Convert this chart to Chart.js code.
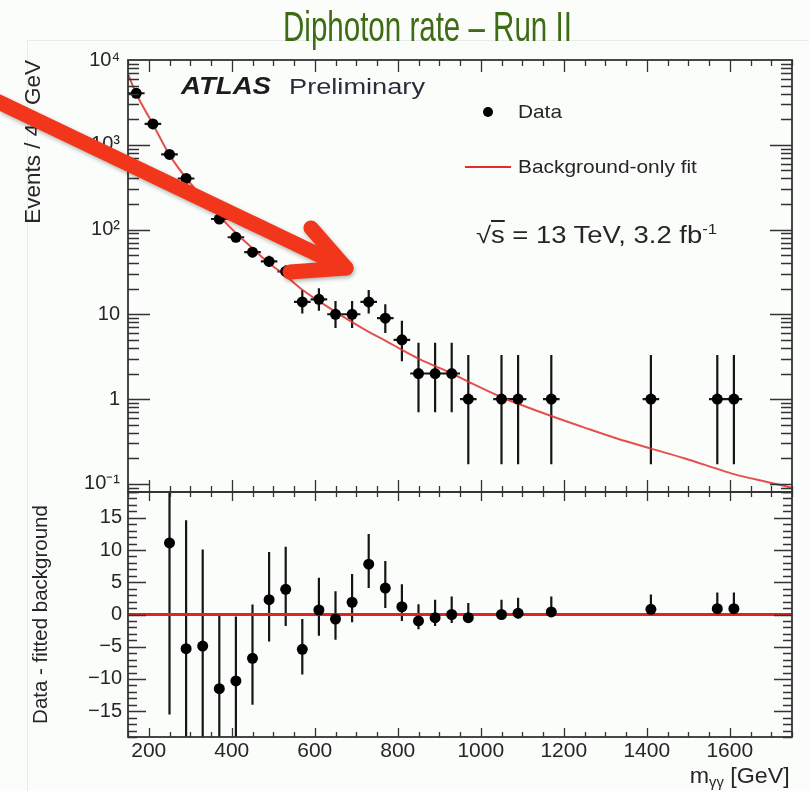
<!DOCTYPE html>
<html>
<head>
<meta charset="utf-8">
<script src="https://cdn.jsdelivr.net/npm/chart.js@4.4.1/dist/chart.umd.min.js"></script>
<style>
  body { margin: 0; background: #fbfdfb; font-family: 'Liberation Sans', Arial, sans-serif; }
  #wrap { position: relative; width: 809px; height: 791px; overflow: hidden; }
  #frameBox { position: absolute; left: 27px; top: 40px; width: 800px; height: 800px; border: 1px solid #e8ece8; }
  canvas { position: absolute; left: 0; }
  #upperChart { top: 0; }
  #lowerChart { top: 462px; }
  .txt { position: absolute; white-space: nowrap; line-height: 1; color: #262626; transform-origin: left center; }
  #title { left: 283px; top: 6px; font-size: 42px; color: #3f6b14; }
  #atlas { left: 181px; top: 75px; font-size: 23px; font-weight: bold; font-style: italic; color: #1c1c1c; }
  #prelim { left: 289px; top: 76px; font-size: 22px; color: #2c2c3c; }
  #legData { left: 518px; top: 102px; font-size: 19px; }
  #legFit { left: 518px; top: 157px; font-size: 19px; }
  #sqrts { left: 476px; top: 222px; font-size: 23px; }
  #sqrts sup { font-size: 14px; vertical-align: 9px; }
  #xTitle { right: 19px; top: 765px; font-size: 22px; transform-origin: right center; }
  #xTitle sub { font-size: 14px; vertical-align: -4px; }
  #legDot { position: absolute; left: 483px; top: 107px; width: 10px; height: 10px; border-radius: 50%; background: #000; }
  #legLine { position: absolute; left: 465px; top: 166px; width: 46px; height: 2px; background: #e52b2b; }
  #arrow { position: absolute; left: 0; top: 0; pointer-events: none; filter: drop-shadow(1px 2px 2px rgba(0,0,0,0.3)); }
</style>
</head>
<body>
<div id="wrap">
  <div id="frameBox"></div>
  <canvas id="upperChart" width="809" height="520"></canvas>
  <canvas id="lowerChart" width="809" height="329"></canvas>
  <div class="txt" id="title">Diphoton rate – Run II</div>
  <div class="txt" id="atlas">ATLAS</div>
  <div class="txt" id="prelim">Preliminary</div>
  <div id="legDot"></div>
  <div class="txt" id="legData">Data</div>
  <div id="legLine"></div>
  <div class="txt" id="legFit">Background-only fit</div>
  <div class="txt" id="sqrts">√<span style="text-decoration: overline">s</span> = 13 TeV, 3.2 fb<sup>-1</sup></div>
  <div class="txt" id="xTitle">m<sub>γγ</sub> [GeV]</div>
  <svg id="arrow" width="809" height="791">
    <g stroke="#f2361b" stroke-width="15" stroke-linecap="round" stroke-linejoin="round" fill="none">
      <line x1="-20" y1="93" x2="346" y2="268"/>
      <polyline points="311,228 346,268 290,272"/>
    </g>
  </svg>
</div>
<script>
// Upper panel: events per 40 GeV bin
const massBins = [170, 210, 250, 290, 330, 370, 410, 450, 490, 530, 570, 610, 650, 690, 730, 770, 810, 850, 890, 930, 970, 1050, 1090, 1170, 1410, 1570, 1610];
const eventCounts = [4050, 1760, 770, 400, 235, 133, 81, 54, 42, 32, 14, 15, 10, 10, 14, 9, 5, 2, 2, 2, 1, 1, 1, 1, 1, 1, 1];
const eventErrLow = [3985, 1718, 742, 380, 220, 122, 72, 47, 36, 27, 10.2, 11, 6.9, 6.9, 10.2, 6, 2.8, 0.7, 0.7, 0.7, 0.17, 0.17, 0.17, 0.17, 0.17, 0.17, 0.17];
const eventErrHigh = [4115, 1802, 798, 421, 251, 145, 91, 62, 49, 38, 19.4, 20.3, 14.3, 14.3, 19.4, 13.1, 8.4, 4.6, 4.6, 4.6, 3.3, 3.3, 3.3, 3.3, 3.3, 3.3, 3.3];

// Background-only fit curve
const fitMass = [150, 170, 210, 250, 290, 330, 370, 410, 450, 490, 530, 570, 610, 650, 690, 730, 770, 810, 850, 890, 930, 970, 1050, 1090, 1170, 1250, 1330, 1410, 1490, 1570, 1610, 1690, 1750];
const fitEvents = [6800, 4000, 1750, 760, 405, 240, 144, 91, 60, 40, 28.5, 19.5, 14.3, 10.7, 8.1, 6.2, 4.9, 3.8, 3.0, 2.45, 2.0, 1.6, 1.05, 0.88, 0.63, 0.46, 0.34, 0.26, 0.2, 0.15, 0.13, 0.105, 0.09];

// Lower panel: data - fitted background
const residMass = [250, 290, 330, 370, 410, 450, 490, 530, 570, 610, 650, 690, 730, 770, 810, 850, 890, 930, 970, 1050, 1090, 1170, 1410, 1570, 1610];
const residuals = [11.1, -5.3, -4.9, -11.5, -10.3, -6.8, 2.3, 3.9, -5.4, 0.7, -0.7, 1.9, 7.8, 4.1, 1.2, -1.0, -0.5, 0.0, -0.5, 0.0, 0.2, 0.4, 0.8, 0.9, 0.9];
const residLow = [-15.5, -25, -20, -23, -19.8, -14, -4.2, -1.8, -9.3, -3.3, -3.9, -1.2, 4.1, 1.0, -1.0, -2.3, -1.8, -1.3, -1.3, -0.8, -0.6, -0.4, 0, 0.1, 0.1];
const residHigh = [38, 14.6, 10.1, 0, -0.3, 1.55, 9.7, 10.5, -0.7, 5.7, 3.6, 6.3, 12.5, 8.3, 4.7, 1.6, 2.3, 2.8, 1.8, 2.3, 2.6, 2.8, 3.1, 3.4, 3.4];
const zeroLineMass = [150, 1750];
const zeroLineValue = [0, 0];

// Axes
const xTickValues = [200, 400, 600, 800, 1000, 1200, 1400, 1600];
const xTickLabels = ['200', '400', '600', '800', '1000', '1200', '1400', '1600'];
const upperYTicks = [0.1, 1, 10, 100, 1000, 10000];
const upperYTickLabels = ['10⁻¹', '1', '10', '10²', '10³', '10⁴'];
const lowerYTicks = [-15, -10, -5, 0, 5, 10, 15];
const lowerYTickLabels = ['−15', '−10', '−5', '0', '5', '10', '15'];

Chart.defaults.font.family = "'Liberation Sans', Arial, sans-serif";
Chart.defaults.color = '#262626';
const axisColor = '#333';

const xMinorTicks = [];
for (let v = 150; v <= 1750; v += 50) xMinorTicks.push(v);
const upperYMinor = [];
for (let d = 0.01; d < 1e4; d *= 10) {
    for (let k = 1; k <= 9; k++) {
        const v = k * d;
        if (v >= 0.08 && v <= 10001) upperYMinor.push(v);
    }
}
const lowerYMinor = [];
for (let v = -19; v <= 19; v++) lowerYMinor.push(v);

// ROOT-style ticks drawn inside the frame
function insideTicks(opt) {
    return {
        id: 'insideTicks',
        afterDatasetsDraw(chart) {
            const { ctx, chartArea: a } = chart;
            const sx = chart.scales.x, sy = chart.scales.y;
            ctx.save();
            ctx.strokeStyle = axisColor;
            ctx.lineWidth = 1.3;
            ctx.beginPath();
            xMinorTicks.forEach(v => {
                const px = Math.round(sx.getPixelForValue(v)) + 0.5;
                const len = xTickValues.includes(v) ? opt.xMajor : opt.xMinor;
                ctx.moveTo(px, a.bottom); ctx.lineTo(px, a.bottom - len);
                ctx.moveTo(px, a.top); ctx.lineTo(px, a.top + len);
            });
            opt.yMinorList.forEach(v => {
                const py = Math.round(sy.getPixelForValue(v)) + 0.5;
                const len = opt.isMajor(v) ? opt.yMajor : opt.yMinor;
                ctx.moveTo(a.left, py); ctx.lineTo(a.left + len, py);
                ctx.moveTo(a.right, py); ctx.lineTo(a.right - len, py);
            });
            ctx.stroke();
            ctx.lineWidth = 1.8;
            ctx.strokeRect(a.left, a.top, a.right - a.left, a.bottom - a.top);
            ctx.restore();
        }
    };
}

function errorBars(xs, ys, lo, hi, halfWidth) {
    return {
        id: 'errorBars',
        beforeDatasetsDraw(chart) {
            const { ctx, chartArea: a } = chart;
            const sx = chart.scales.x, sy = chart.scales.y;
            ctx.save();
            ctx.beginPath();
            ctx.rect(a.left, a.top, a.right - a.left, a.bottom - a.top);
            ctx.clip();
            ctx.strokeStyle = '#151515';
            ctx.lineWidth = 2.2;
            ctx.beginPath();
            xs.forEach((x, i) => {
                const px = sx.getPixelForValue(x);
                ctx.moveTo(px, sy.getPixelForValue(lo[i]));
                ctx.lineTo(px, sy.getPixelForValue(hi[i]));
                if (halfWidth) {
                    const py = sy.getPixelForValue(ys[i]);
                    ctx.moveTo(sx.getPixelForValue(x - halfWidth), py);
                    ctx.lineTo(sx.getPixelForValue(x + halfWidth), py);
                }
            });
            ctx.stroke();
            ctx.restore();
        }
    };
}

const upperChart = new Chart(document.getElementById('upperChart'), {
    type: 'scatter',
    data: {
        datasets: [{
            label: 'Data',
            data: massBins.map((m, i) => ({ x: m, y: eventCounts[i] })),
            pointRadius: 5.5,
            pointBackgroundColor: '#000',
            pointBorderWidth: 0
        }, {
            label: 'Background-only fit',
            data: fitMass.map((m, i) => ({ x: m, y: fitEvents[i] })),
            showLine: true,
            borderColor: 'rgba(226, 48, 48, 0.85)',
            borderWidth: 2,
            pointRadius: 0,
            cubicInterpolationMode: 'monotone'
        }]
    },
    options: {
        responsive: false,
        animation: false,
        devicePixelRatio: 1,
        layout: { padding: { left: 0, right: 17, top: 60, bottom: 28 } },
        plugins: { legend: { display: false }, tooltip: { enabled: false } },
        scales: {
            x: { type: 'linear', min: 150, max: 1750, display: false },
            y: {
                type: 'logarithmic',
                min: 0.08,
                max: 10000,
                afterFit: scale => { scale.width = 128; },
                afterBuildTicks: scale => { scale.ticks = upperYTicks.map(v => ({ value: v })); },
                ticks: {
                    callback: v => upperYTickLabels[upperYTicks.indexOf(v)],
                    font: { size: 20 },
                    padding: 8
                },
                grid: { display: false, drawTicks: false },
                border: { display: false },
                title: {
                    display: true,
                    text: 'Events / 40 GeV',
                    align: 'end',
                    font: { size: 22.5 },
                    padding: { top: 20 }
                }
            }
        }
    },
    plugins: [
        errorBars(massBins, eventCounts, eventErrLow, eventErrHigh, 20),
        insideTicks({
            xMajor: 12, xMinor: 6, yMajor: 22, yMinor: 11,
            yMinorList: upperYMinor,
            isMajor: v => Math.abs(Math.log10(v) - Math.round(Math.log10(v))) < 1e-6
        })
    ]
});

const lowerChart = new Chart(document.getElementById('lowerChart'), {
    type: 'scatter',
    data: {
        datasets: [{
            label: 'Data - fitted background',
            data: residMass.map((m, i) => ({ x: m, y: residuals[i] })),
            pointRadius: 5.5,
            pointBackgroundColor: '#000',
            pointBorderWidth: 0
        }, {
            label: 'zero',
            data: zeroLineMass.map((m, i) => ({ x: m, y: zeroLineValue[i] })),
            showLine: true,
            borderColor: '#e02424',
            borderWidth: 3,
            pointRadius: 0
        }]
    },
    options: {
        responsive: false,
        animation: false,
        devicePixelRatio: 1,
        layout: { padding: { left: 0, right: 17, top: 30, bottom: 0 } },
        plugins: { legend: { display: false }, tooltip: { enabled: false } },
        scales: {
            x: {
                type: 'linear',
                min: 150,
                max: 1750,
                afterFit: scale => { scale.height = 54; },
                afterBuildTicks: scale => { scale.ticks = xTickValues.map(v => ({ value: v })); },
                ticks: {
                    callback: v => xTickLabels[xTickValues.indexOf(v)],
                    font: { size: 21 },
                    maxRotation: 0,
                    autoSkip: false,
                    padding: 2
                },
                grid: { display: false, drawTicks: false },
                border: { display: false }
            },
            y: {
                type: 'linear',
                min: -19,
                max: 19,
                afterFit: scale => { scale.width = 128; },
                afterBuildTicks: scale => { scale.ticks = lowerYTicks.map(v => ({ value: v })); },
                ticks: {
                    callback: v => lowerYTickLabels[lowerYTicks.indexOf(v)],
                    font: { size: 20 },
                    padding: 6
                },
                grid: { display: false, drawTicks: false },
                border: { display: false },
                title: {
                    display: true,
                    text: 'Data - fitted background',
                    font: { size: 20.5 },
                    padding: { top: 29 }
                }
            }
        }
    },
    plugins: [
        errorBars(residMass, residuals, residLow, residHigh, 0),
        insideTicks({
            xMajor: 9, xMinor: 5, yMajor: 18, yMinor: 9,
            yMinorList: lowerYMinor,
            isMajor: v => v % 5 === 0
        })
    ]
});

// squeeze / stretch overlay texts to the widths seen in the picture
function fitText(id, width) {
    const el = document.getElementById(id);
    const w = el.getBoundingClientRect().width;
    el.style.transform = 'scaleX(' + (width / w).toFixed(3) + ')';
}
fitText('title', 289);
fitText('atlas', 90);
fitText('prelim', 136);
fitText('legData', 44);
fitText('legFit', 179);
fitText('sqrts', 241);
fitText('xTitle', 100);
</script>
</body>
</html>
